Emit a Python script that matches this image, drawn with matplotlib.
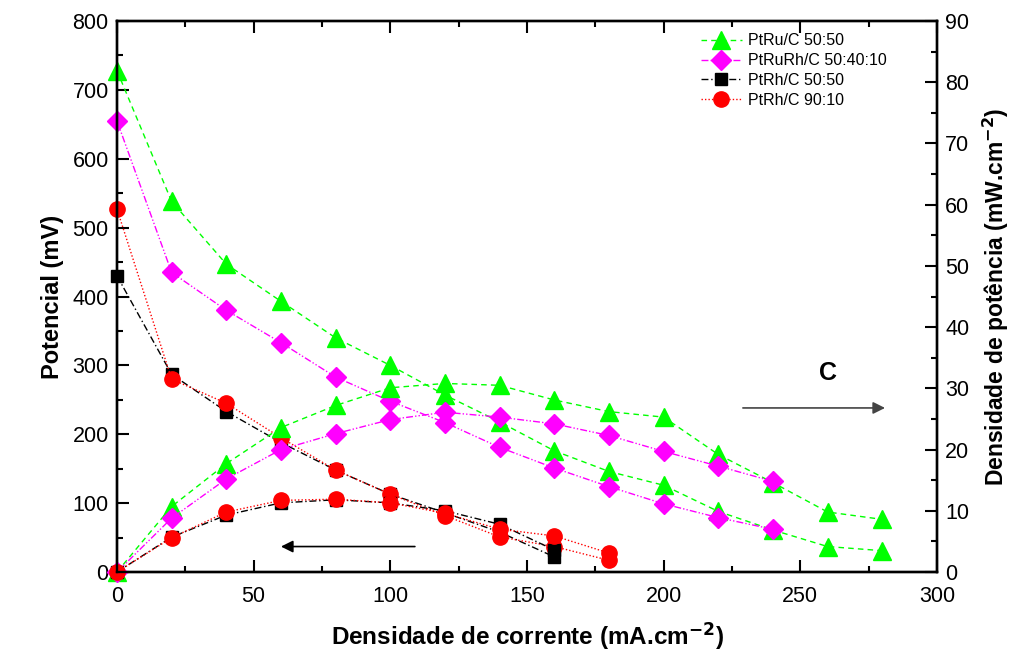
import matplotlib
matplotlib.use("Agg")
import matplotlib.pyplot as plt
from matplotlib.ticker import MultipleLocator

plt.rcParams['font.family'] = ['Liberation Sans', 'DejaVu Sans']
plt.rcParams['mathtext.default'] = 'regular'

# Current density (mA/cm2)
j_ptru = [0, 20, 40, 60, 80, 100, 120, 140, 160, 180, 200, 220, 240, 260, 280]
j_ptrurh = [0, 20, 40, 60, 80, 100, 120, 140, 160, 180, 200, 220, 240]
j_ptrh5050 = [0, 20, 40, 60, 80, 100, 120, 140, 160]
j_ptrh9010 = [0, 20, 40, 60, 80, 100, 120, 140, 160, 180]

# Cell potential (mV)
v_ptru = [728, 538, 447, 393, 340, 300, 257, 218, 176, 146, 126, 88, 61, 37, 31]
v_ptrurh = [655, 435, 380, 333, 283, 248, 217, 181, 151, 124, 99, 79, 62]
v_ptrh5050 = [430, 287, 233, 188, 148, 113, 86, 58, 22]
v_ptrh9010 = [527, 280, 245, 195, 148, 113, 82, 51, 37, 17]

# Power density (mW/cm2)
p_ptru = [0, 10.7, 17.7, 23.6, 27.2, 30.1, 30.8, 30.5, 28.1, 26.2, 25.3, 19.2, 14.6, 9.8, 8.6]
p_ptrurh = [0, 8.8, 15.2, 20.0, 22.6, 24.9, 26.1, 25.3, 24.2, 22.3, 19.7, 17.3, 14.8]
p_ptrh5050 = [0, 5.7, 9.3, 11.3, 11.8, 11.3, 10.0, 7.8, 3.6]
p_ptrh9010 = [0, 5.6, 9.8, 11.7, 11.9, 11.3, 9.6, 7.0, 5.9, 3.1]

labels = ["PtRu/C 50:50", "PtRuRh/C 50:40:10", "PtRh/C 50:50", "PtRh/C 90:10"]

styles = [
    dict(color="#00ff00", marker="^", ms=13, dashes=(4, 3)),
    dict(color="#ff00ff", marker="D", ms=10, dashes=(5, 1.5, 1, 1.5, 1, 1.5)),
    dict(color="black", marker="s", ms=9, dashes=(5, 2, 1, 2)),
    dict(color="red", marker="o", ms=11, dashes=(1, 1.5)),
]

series = [
    (j_ptru, v_ptru, p_ptru),
    (j_ptrurh, v_ptrurh, p_ptrurh),
    (j_ptrh5050, v_ptrh5050, p_ptrh5050),
    (j_ptrh9010, v_ptrh9010, p_ptrh9010),
]

fig = plt.figure(figsize=(10.36, 6.56), dpi=100)
ax = fig.add_axes([0.1129, 0.128, 0.7915, 0.840])
ax2 = ax.twinx()

handles = []
for (j, v, p), st, lab in zip(series, styles, labels):
    kw = dict(color=st["color"], marker=st["marker"], markersize=st["ms"],
              markeredgecolor=st["color"], markerfacecolor=st["color"],
              linewidth=1.0, dashes=st["dashes"], clip_on=False)
    h, = ax.plot(j, v, label=lab, **kw)
    ax2.plot(j, p, **kw)
    handles.append(h)

ax.set_xlim(0, 300)
ax.set_ylim(0, 800)
ax2.set_ylim(0, 90)

ax.xaxis.set_major_locator(MultipleLocator(50))
ax.xaxis.set_minor_locator(MultipleLocator(25))
ax.yaxis.set_major_locator(MultipleLocator(100))
ax.yaxis.set_minor_locator(MultipleLocator(50))
ax2.yaxis.set_major_locator(MultipleLocator(10))
ax2.yaxis.set_minor_locator(MultipleLocator(5))

for a in (ax, ax2):
    for s in a.spines.values():
        s.set_linewidth(1.7)

ax.tick_params(which="both", direction="in", top=True, right=False,
               labelsize=15.5, width=1.5)
ax.tick_params(which="major", length=8.5, pad=6)
ax.tick_params(axis="x", which="major", pad=10)
ax.tick_params(which="minor", length=4.5)
ax2.tick_params(which="both", direction="in", labelsize=15.5, width=1.5)
ax2.tick_params(which="major", length=8.5, pad=6)
ax2.tick_params(which="minor", length=4.5)

ax.set_xlabel("Densidade de corrente (mA.cm$^{\\mathbf{-2}}$)", fontsize=17.5,
              fontweight="bold", labelpad=10)
ax.set_ylabel("Potencial (mV)", fontsize=17, fontweight="bold", labelpad=6)
ax2.set_ylabel("Densidade de potência (mW.cm$^{\\mathbf{-2}}$)", fontsize=16.5,
               fontweight="bold", labelpad=8)

# Direction arrows: polarization curves -> left axis, power curves -> right axis
ax.annotate("", xy=(60, 37), xytext=(109, 37),
            arrowprops=dict(arrowstyle="-|>", color="black", lw=1.2,
                            mutation_scale=18, shrinkA=0, shrinkB=0))
ax2.annotate("", xy=(281, 26.8), xytext=(229, 26.8),
             arrowprops=dict(arrowstyle="-|>", color="#444444", lw=1.2,
                             mutation_scale=18, shrinkA=0, shrinkB=0))
ax2.text(260, 32.5, "C", fontsize=18, fontweight="bold", ha="center", va="center")

leg = ax.legend(handles=handles, loc="upper left", bbox_to_anchor=(0.70, 0.995),
                frameon=False, fontsize=11.5, numpoints=1, handlelength=2.6,
                handletextpad=0.4, labelspacing=0.3, borderaxespad=0.2)

fig.savefig("out.png", dpi=100)
